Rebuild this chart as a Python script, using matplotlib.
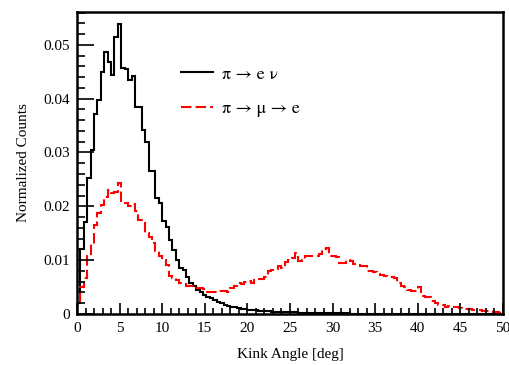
import numpy as np
import matplotlib
matplotlib.use("Agg")
import matplotlib.pyplot as plt
from matplotlib.ticker import MultipleLocator, FuncFormatter

plt.rcParams['font.family'] = ['Liberation Serif', 'DejaVu Serif']

# kink angle histograms, 125 bins of 0.4 deg from 0 to 50 deg
bin_edges = np.linspace(0, 50, 126)

pi_e_nu = [
    0.0020, 0.0120, 0.0170, 0.0253, 0.0305, 0.0372, 0.0398, 0.0449, 0.0486, 0.0469,
    0.0444, 0.0514, 0.0539, 0.0457, 0.0455, 0.0435, 0.0442, 0.0384, 0.0384, 0.0342,
    0.0320, 0.0266, 0.0266, 0.0215, 0.0207, 0.0172, 0.0162, 0.0138, 0.0119, 0.0100,
    0.0086, 0.0082, 0.0069, 0.0058, 0.0051, 0.0045, 0.0040, 0.0035, 0.0032, 0.0029,
    0.0026, 0.0023, 0.0020, 0.0017, 0.0015, 0.0013, 0.0012, 0.0011, 0.0010, 0.0009,
    0.0008, 0.0008, 0.0007, 0.0006, 0.0006, 0.0005, 0.0005, 0.0004, 0.0004, 0.0004,
    0.0003, 0.0003, 0.0003, 0.0003, 0.0003, 0.0002, 0.0002, 0.0002, 0.0002, 0.0002,
    0.0001, 0.0001, 0.0001, 0.0001, 0.0001, 0.0001, 0.0001, 0.0001, 0.0001, 0.0001,
    0, 0, 0, 0, 0, 0, 0, 0, 0, 0,
    0, 0, 0, 0, 0, 0, 0, 0, 0, 0,
    0, 0, 0, 0, 0, 0, 0, 0, 0, 0,
    0, 0, 0, 0, 0, 0, 0, 0, 0, 0,
    0, 0, 0, 0, 0,
]

pi_mu_e = [
    0.0017, 0.0050, 0.0066, 0.0107, 0.0130, 0.0165, 0.0188, 0.0203, 0.0218, 0.0230,
    0.0224, 0.0226, 0.0243, 0.0209, 0.0206, 0.0200, 0.0204, 0.0192, 0.0175, 0.0175,
    0.0150, 0.0143, 0.0132, 0.0116, 0.0107, 0.0100, 0.0090, 0.0070, 0.0066, 0.0063,
    0.0058, 0.0056, 0.0051, 0.0052, 0.0049, 0.0048, 0.0049, 0.0046, 0.0041, 0.0041,
    0.0040, 0.0043, 0.0042, 0.0043, 0.0040, 0.0048, 0.0052, 0.0057, 0.0055, 0.0060,
    0.0061, 0.0058, 0.0063, 0.0065, 0.0064, 0.0069, 0.0080, 0.0082, 0.0084, 0.0089,
    0.0086, 0.0097, 0.0100, 0.0103, 0.0113, 0.0099, 0.0100, 0.0108, 0.0107, 0.0108,
    0.0107, 0.0112, 0.0120, 0.0122, 0.0108, 0.0108, 0.0106, 0.0094, 0.0094, 0.0101,
    0.0098, 0.0093, 0.0090, 0.0089, 0.0089, 0.0080, 0.0079, 0.0078, 0.0074, 0.0072,
    0.0071, 0.0069, 0.0068, 0.0066, 0.0058, 0.0052, 0.0050, 0.0045, 0.0043, 0.0042,
    0.0050, 0.0033, 0.0032, 0.0031, 0.0024, 0.0021, 0.0017, 0.0017, 0.0013, 0.0015,
    0.0012, 0.0012, 0.0011, 0.0010, 0.0010, 0.0009, 0.0008, 0.0007, 0.0007, 0.0006,
    0.0005, 0.0005, 0.0004, 0.0003, 0.0002,
]

labels = ['π → e ν', 'π → μ → e']

fig = plt.figure(figsize=(5.1, 3.65), dpi=100)
ax = fig.add_axes([0.151, 0.14, 0.835, 0.827])

ax.stairs(pi_e_nu, bin_edges, color='black', linewidth=1.5, label=labels[0])
ax.stairs(pi_mu_e, bin_edges, color='red', linewidth=1.5,
          linestyle=(0, (5, 2)), label=labels[1])

ax.set_xlim(0, 50)
ax.set_ylim(0, 0.0561)

ax.xaxis.set_major_locator(MultipleLocator(5))
ax.xaxis.set_minor_locator(MultipleLocator(1))
ax.yaxis.set_major_locator(MultipleLocator(0.01))
ax.yaxis.set_minor_locator(MultipleLocator(0.002))
ax.yaxis.set_major_formatter(FuncFormatter(lambda v, p: '0' if abs(v) < 1e-9 else f'{v:.2f}'))
ax.tick_params(which='both', direction='in', labelsize=11, width=1.2)
ax.tick_params(axis='x', which='major', length=8, pad=6)
ax.tick_params(axis='x', which='minor', length=4)
ax.tick_params(axis='y', which='major', length=12, pad=5)
ax.tick_params(axis='y', which='minor', length=6)
for s in ax.spines.values():
    s.set_linewidth(1.8)

ax.set_xlabel('Kink Angle [deg]', fontsize=11, labelpad=9)
ax.set_ylabel('Normalized Counts', fontsize=11, labelpad=10)

ax.legend(loc='upper left', bbox_to_anchor=(0.207, 0.875), frameon=False,
          prop={'family': 'STIXGeneral', 'size': 13}, handlelength=1.75,
          labelspacing=1.0, handletextpad=0.5)

fig.savefig('out.png', dpi=100)
